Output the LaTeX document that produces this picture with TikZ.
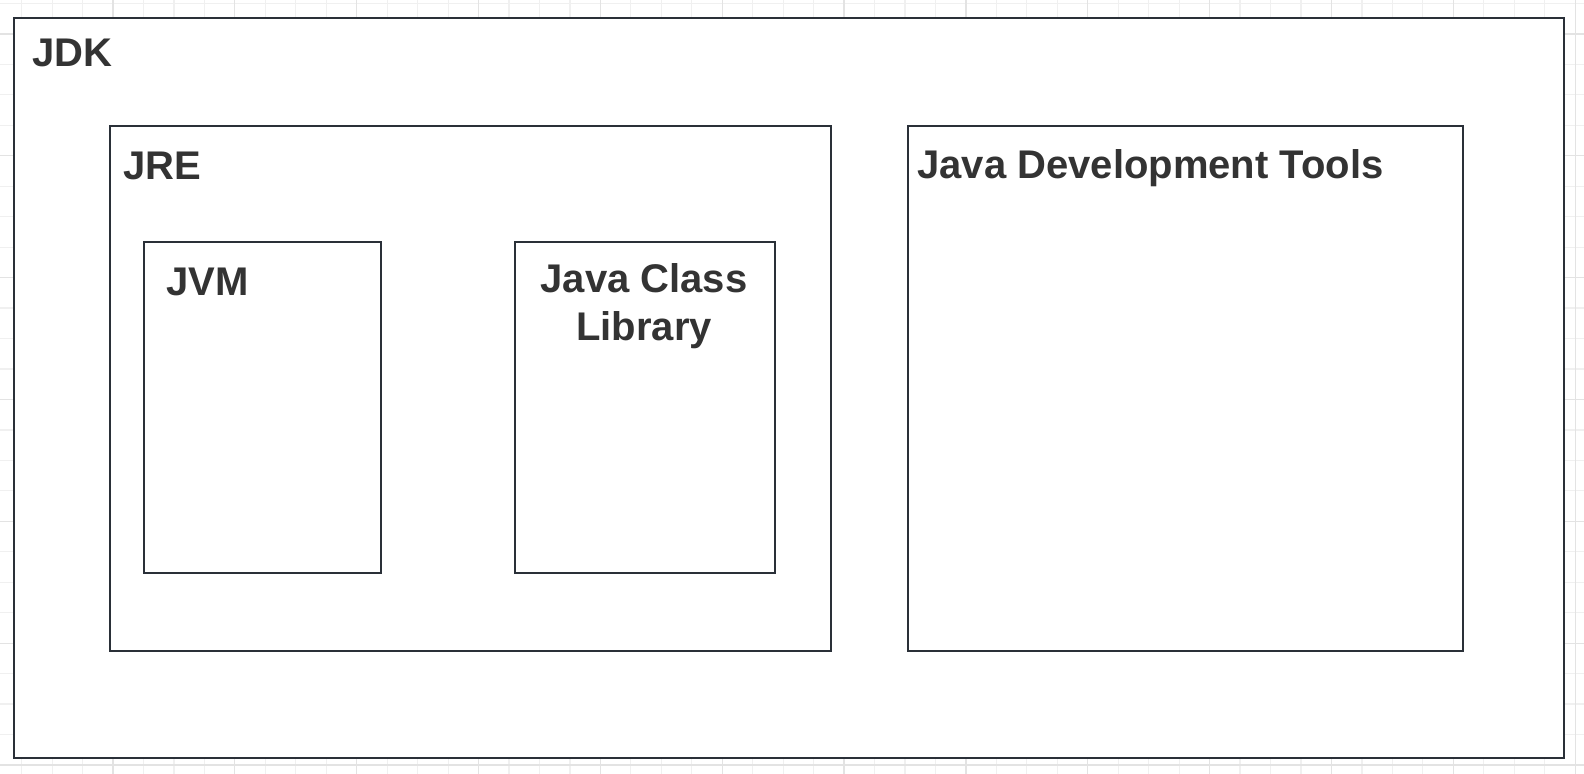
\documentclass[tikz,border=0pt]{standalone}
\usepackage{fontspec}
\setmainfont{Liberation Sans}
\definecolor{gridminor}{HTML}{F0F0F0}
\definecolor{gridmajor}{HTML}{E3E3E3}
\definecolor{boxline}{HTML}{2A3038}
\definecolor{labeltext}{HTML}{333333}
\tikzset{
  boxshape/.style={draw=boxline, line width=1.2pt, fill=white, rectangle, inner sep=0pt, anchor=north west},
  boxlabel/.style={text=labeltext, inner sep=0pt, font=\bfseries\fontsize{20}{24}\selectfont},
}
\begin{document}
\begin{tikzpicture}[x=0.5pt, y=-0.5pt]
\useasboundingbox (0,0) rectangle (1584,774);
\fill[white] (0,0) rectangle (1584,774);
\begin{scope}
\clip (0,0) rectangle (1584,774);
\foreach \k in {0,...,52} {
  \draw[gridminor, line width=0.6pt] ({-8.8+30.46*\k},0) -- ({-8.8+30.46*\k},774);
}
\foreach \j in {0,...,25} {
  \draw[gridminor, line width=0.6pt] (0,{3.5+30.46*\j}) -- (1584,{3.5+30.46*\j});
}
\foreach \k in {0,4,...,52} {
  \draw[gridmajor, line width=0.6pt] ({-8.8+30.46*\k},0) -- ({-8.8+30.46*\k},774);
}
\foreach \j in {1,5,...,25} {
  \draw[gridmajor, line width=0.6pt] (0,{3.5+30.46*\j}) -- (1584,{3.5+30.46*\j});
}
\end{scope}

\node[boxshape, minimum width=775pt, minimum height=370pt] (jdk) at (13,17) {};
\node[boxshape, minimum width=360.5pt, minimum height=262.5pt] (jre) at (109,125) {};
\node[boxshape, minimum width=118.5pt, minimum height=165.5pt] (jvm) at (143,241) {};
\node[boxshape, minimum width=130pt, minimum height=165.5pt] (jcl) at (514,241) {};
\node[boxshape, minimum width=277.5pt, minimum height=262.5pt] (jdt) at (907,125) {};

\node[boxlabel, anchor=base west] (jdklabel) at (32,67) {JDK};
\node[boxlabel, anchor=base west] (jrelabel) at (123,180) {JRE};
\node[boxlabel, anchor=base west] (jvmlabel) at (166,296) {JVM};
\node[boxlabel, anchor=base west] (jdtlabel) at (917,179) {Java Development Tools};
\node[boxlabel, anchor=base, align=center] (jcllabel) at (644,341) {Java Class\\Library};
\end{tikzpicture}
\end{document}
